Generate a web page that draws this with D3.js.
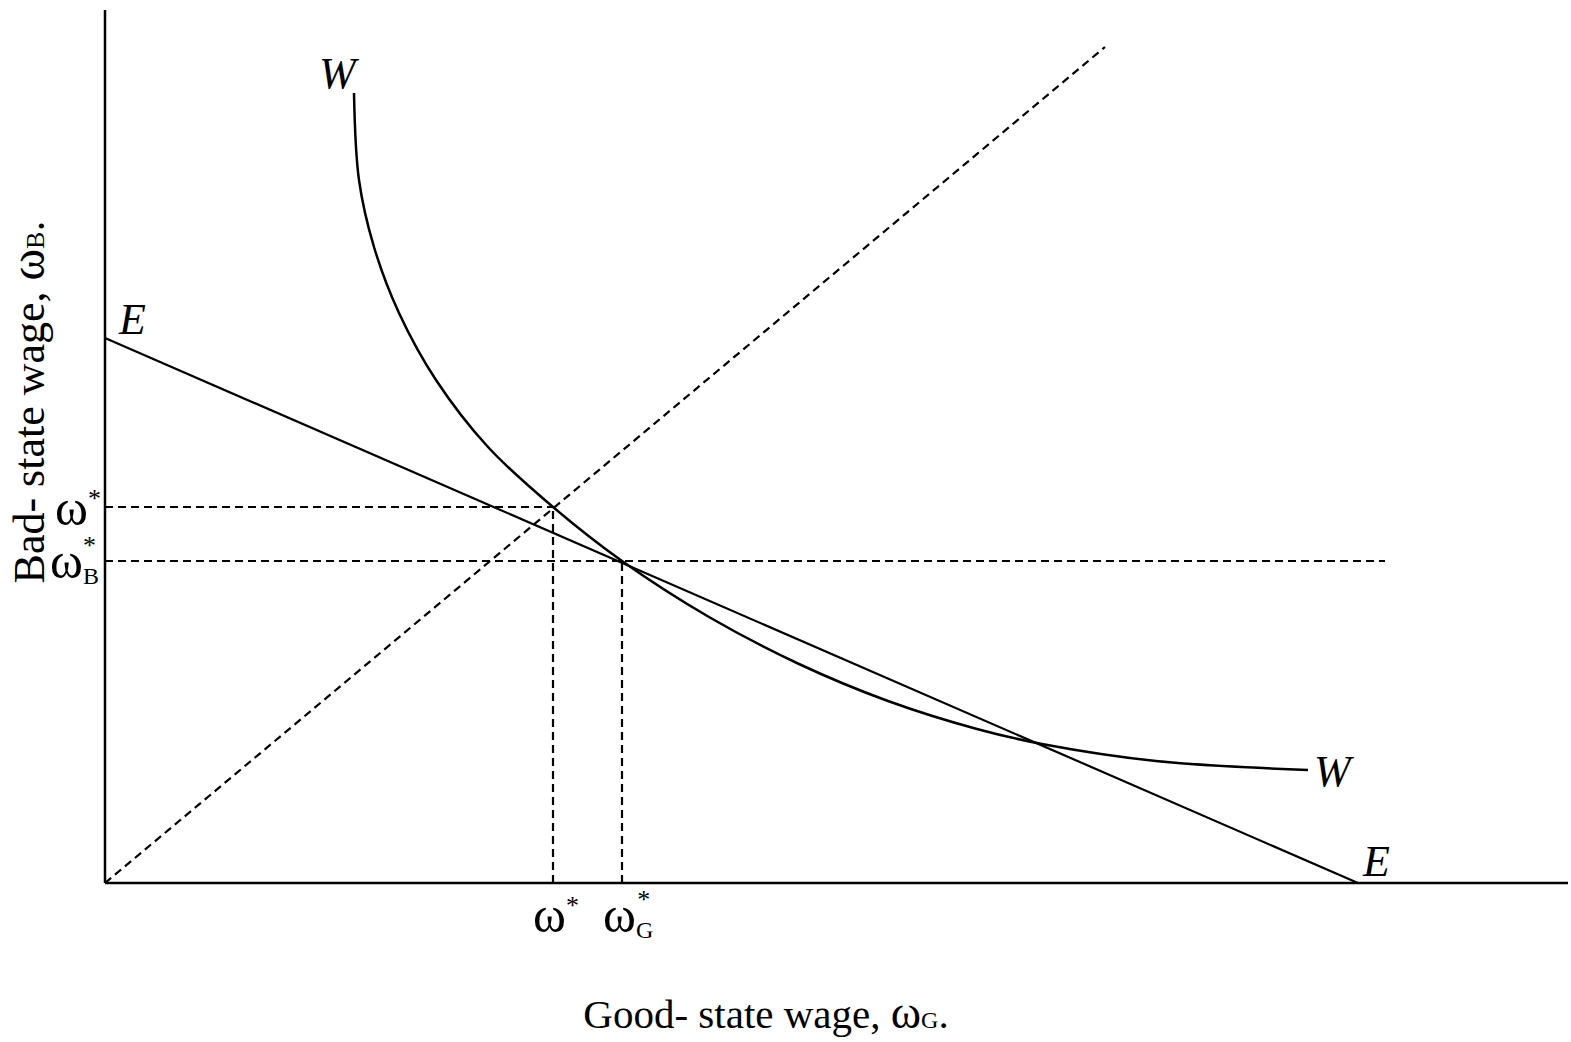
<!DOCTYPE html>
<html>
<head>
<meta charset="utf-8">
<script src="https://cdn.jsdelivr.net/npm/d3@7"></script>
<style>
  body { margin: 0; background: #fff; }
  text { font-family: "Liberation Serif", "DejaVu Serif", serif; fill: #000; }
</style>
</head>
<body>
<div id="workspace"></div>
<script>
// curve values (data units)
var wCurve = [[2.49, 7.90], [2.54, 7.03], [2.69, 6.36], [2.94, 5.70], [3.31, 5.03],
	[3.83, 4.36], [4.48, 3.76], [5.17, 3.22], [6.04, 2.66], [6.94, 2.19],
	[7.83, 1.82], [8.72, 1.54], [9.37, 1.39], [10.51, 1.22], [12.03, 1.13]];
var eLine = [[0, 5.45], [12.53, 0]];
var diagonal = [[0, 0], [10, 8.36]];
var wStar = [4.48, 3.76];     // omega*, where W meets the 45 line
var wOpt = [5.17, 3.22];      // omega_G*, omega_B*
var hDashEnd = 12.8;          // end of the omega_B* guide

var svg = d3.select("#workspace")
	.append("svg")
	.attr("width", 1571)
	.attr("height", 1042);

var x = d3.scaleLinear().domain([0, 14.63]).range([105, 1568]);
var y = d3.scaleLinear().domain([0, 8.73]).range([883, 10]);

var line = d3.line().x(function(d) { return x(d[0]); }).y(function(d) { return y(d[1]); });

// axes
svg.append("line")
	.attr("x1", x(0)).attr("y1", y(0))
	.attr("x2", x(0)).attr("y2", y(8.73))
	.attr("stroke", "black").attr("stroke-width", 2.5);
svg.append("line")
	.attr("x1", x(0)).attr("y1", y(0))
	.attr("x2", x(14.63)).attr("y2", y(0))
	.attr("stroke", "black").attr("stroke-width", 2.5);

// dashed guides
var dashed = [
	[[0, 0], diagonal[1]],
	[[0, wStar[1]], wStar],
	[[wStar[0], 0], wStar],
	[[0, wOpt[1]], [hDashEnd, wOpt[1]]],
	[[wOpt[0], 0], wOpt]
];
dashed.forEach(function(seg) {
	svg.append("path")
		.attr("d", line(seg))
		.attr("fill", "none")
		.attr("stroke", "black")
		.attr("stroke-width", 2.2)
		.attr("stroke-dasharray", "8,5");
});

// E line
svg.append("path")
	.attr("d", line(eLine))
	.attr("fill", "none")
	.attr("stroke", "black")
	.attr("stroke-width", 2.2);

// W curve
svg.append("path")
	.attr("d", d3.line()
		.x(function(d) { return x(d[0]); })
		.y(function(d) { return y(d[1]); })
		.curve(d3.curveCatmullRom.alpha(0.5))(wCurve))
	.attr("fill", "none")
	.attr("stroke", "black")
	.attr("stroke-width", 2.5);

// curve labels
function italic(txt, px, py) {
	svg.append("text")
		.attr("x", px).attr("y", py)
		.attr("font-style", "italic")
		.attr("font-size", "44px")
		.text(txt);
}
italic("W", 319, 88);
italic("W", 1314, 786);
italic("E", 119, 334);
italic("E", 1363, 876);

// omega labels: base, sub, sup
function omega(px, py, sub, anchorEnd) {
	var t = svg.append("text")
		.attr("x", px).attr("y", py)
		.attr("font-size", "50px");
	t.append("tspan").text("\u03c9");
	if (sub) {
		t.append("tspan").attr("font-size", "24px").attr("dy", 6).text(sub);
		t.append("tspan").attr("font-size", "26px").attr("dx", -16).attr("dy", -30).text("*");
	} else {
		t.append("tspan").attr("font-size", "26px").attr("dy", -18).text("*");
	}
	if (anchorEnd) t.attr("text-anchor", "end");
	return t;
}
omega(101, 525, null, true);
omega(99, 578, "B", true);
omega(533, 932, null, false);
omega(603, 932, "G", false);

// axis titles
var xt = svg.append("text")
	.attr("x", 766).attr("y", 1028)
	.attr("text-anchor", "middle")
	.attr("font-size", "41px");
xt.append("tspan").text("Good- state wage, ");
xt.append("tspan").attr("font-size", "46px").text("\u03c9");
xt.append("tspan").attr("font-size", "24px").text("G");
xt.append("tspan").text(".");

var yt = svg.append("text")
	.attr("transform", "translate(44,402) rotate(-90)")
	.attr("text-anchor", "middle")
	.attr("font-size", "44px");
yt.append("tspan").text("Bad- state wage, ");
yt.append("tspan").attr("font-size", "48px").text("\u03c9");
yt.append("tspan").attr("font-size", "26px").text("B");
yt.append("tspan").text(".");
</script>
</body>
</html>
